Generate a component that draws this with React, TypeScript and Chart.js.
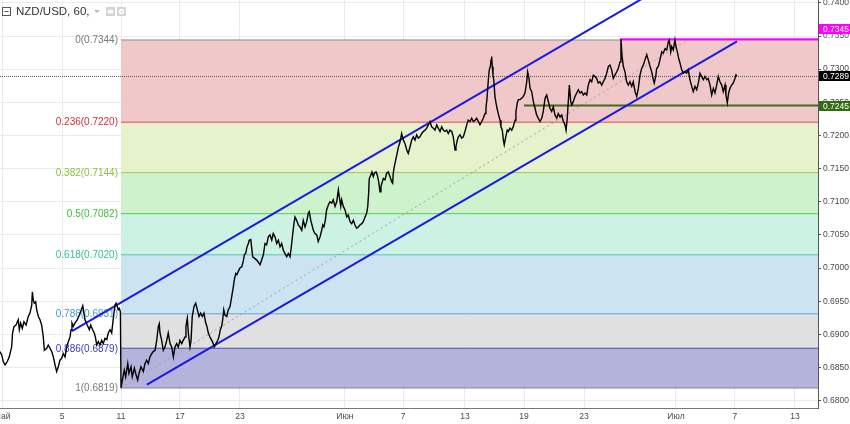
import { useEffect, useRef } from 'react';
import { Chart, registerables } from 'chart.js';

Chart.register(...registerables);

// ---------- data ----------
const TITLE = 'NZD/USD, 60,';

// x is measured in trading days from the 11 May session open
const xTickDays = [-7.93, -3.93, 0, 3.93, 7.93, 14.93, 18.8, 22.93, 26.87, 30.87, 37, 40.93, 44.93];
const xTickLabels = ['Май', '5', '11', '17', '23', 'Июн', '7', '13', '19', '23', 'Июл', '7', '13'];
const yTickValues = [0.68, 0.685, 0.69, 0.695, 0.7, 0.705, 0.71, 0.715, 0.72, 0.725, 0.73, 0.735, 0.74];

const X_MIN = -8.067;
const X_MAX = 46.467;
const Y_MIN = 0.67889;
const Y_MAX = 0.74043;

// hourly close path, [day, price]
const barsMay1: [number, number][] = [
  [-8.07, 0.6874], [-7.95, 0.6869], [-7.85, 0.6859], [-7.73, 0.6854], [-7.58, 0.6859], [-7.45, 0.6866],
  [-7.29, 0.6881], [-7.23, 0.6902], [-7.13, 0.6912], [-7.0, 0.6914], [-6.85, 0.6922], [-6.78, 0.6907],
  [-6.69, 0.6917], [-6.58, 0.6909], [-6.47, 0.6919], [-6.33, 0.6914], [-6.18, 0.6927], [-6.07, 0.6932],
  [-5.95, 0.6944], [-5.91, 0.6964], [-5.85, 0.6952], [-5.78, 0.6947], [-5.69, 0.6949], [-5.62, 0.6937],
  [-5.51, 0.6927], [-5.4, 0.6922], [-5.29, 0.6914], [-5.18, 0.6896], [-5.11, 0.6876], [-4.95, 0.6879],
  [-4.85, 0.6884], [-4.73, 0.6879], [-4.62, 0.6874], [-4.51, 0.6866], [-4.4, 0.6854], [-4.29, 0.6844],
  [-4.18, 0.6851], [-4.07, 0.6861], [-3.95, 0.6864], [-3.85, 0.6871], [-3.73, 0.6866], [-3.62, 0.6881],
  [-3.51, 0.6889], [-3.4, 0.6896], [-3.33, 0.6907], [-3.27, 0.6917], [-3.18, 0.6912], [-3.07, 0.6917],
  [-2.91, 0.6922], [-2.73, 0.6932], [-2.55, 0.6943], [-2.47, 0.6932], [-2.4, 0.6922], [-2.25, 0.6914],
  [-2.11, 0.6907], [-2.02, 0.6914], [-1.89, 0.6907], [-1.78, 0.6902], [-1.69, 0.6894], [-1.62, 0.6884],
  [-1.51, 0.6889], [-1.4, 0.6884], [-1.29, 0.6891], [-1.18, 0.6886], [-1.07, 0.6894], [-0.95, 0.6892],
  [-0.85, 0.6902], [-0.73, 0.6907], [-0.62, 0.6902], [-0.55, 0.6917], [-0.47, 0.6932], [-0.4, 0.6944],
  [-0.33, 0.6947], [-0.25, 0.6942], [-0.18, 0.6937], [-0.11, 0.6939], [-0.04, 0.6934], [0, 0.6819],
];

const barsMay2: [number, number][] = [
  [0.09, 0.6831], [0.22, 0.6846], [0.31, 0.6836], [0.45, 0.6856], [0.53, 0.6841], [0.67, 0.6851],
  [0.75, 0.6836], [0.89, 0.6849], [0.98, 0.6841], [1.11, 0.6831], [1.2, 0.6841], [1.33, 0.6851],
  [1.49, 0.6844], [1.6, 0.6856], [1.71, 0.6861], [1.82, 0.6856], [1.93, 0.6866], [2.05, 0.6871],
  [2.15, 0.6874], [2.27, 0.6876], [2.38, 0.6891], [2.49, 0.6912], [2.55, 0.6916], [2.6, 0.6902],
  [2.71, 0.6891], [2.82, 0.6876], [2.93, 0.6881], [3.05, 0.6891], [3.15, 0.6902], [3.27, 0.6886],
  [3.38, 0.6881], [3.49, 0.6866], [3.6, 0.6881], [3.71, 0.6886], [3.82, 0.6881], [3.93, 0.6891],
  [4.05, 0.6886], [4.15, 0.6891], [4.27, 0.6896], [4.33, 0.6912], [4.42, 0.6924], [4.49, 0.6902],
  [4.6, 0.6881], [4.67, 0.6891], [4.75, 0.6927], [4.87, 0.6942], [4.98, 0.6947], [5.09, 0.6937],
  [5.2, 0.6927], [5.31, 0.6932], [5.42, 0.6927], [5.53, 0.6932], [5.65, 0.6917], [5.73, 0.6912],
  [5.82, 0.6902], [5.93, 0.6896], [6.05, 0.6891], [6.15, 0.6886], [6.22, 0.6881], [6.33, 0.6886],
  [6.45, 0.6891], [6.53, 0.6896], [6.62, 0.6907], [6.71, 0.6912], [6.78, 0.6922], [6.85, 0.6937],
  [6.93, 0.6929], [7.05, 0.6927], [7.15, 0.6937], [7.27, 0.6942], [7.38, 0.6957], [7.49, 0.6972],
  [7.55, 0.6982], [7.65, 0.6992], [7.73, 0.699], [7.82, 0.6995], [7.93, 0.7], [8.05, 0.7002],
  [8.15, 0.701], [8.22, 0.702], [8.31, 0.7022], [8.4, 0.7032], [8.49, 0.7037], [8.55, 0.7042],
  [8.65, 0.7043],
];

const barsMay3: [number, number][] = [
  [8.78, 0.7017], [9.05, 0.7012], [9.27, 0.7005], [9.49, 0.702], [9.6, 0.7037], [9.71, 0.7035],
  [9.82, 0.7047], [9.93, 0.705], [10.05, 0.7042], [10.15, 0.7052], [10.27, 0.7047], [10.38, 0.7037],
  [10.49, 0.7042], [10.6, 0.7032], [10.71, 0.7037], [10.82, 0.7027], [10.93, 0.7022], [11.05, 0.7017],
  [11.15, 0.7022], [11.27, 0.7017], [11.38, 0.7037], [11.45, 0.7052], [11.53, 0.7067], [11.6, 0.7077],
  [11.71, 0.7072], [11.82, 0.7065], [11.93, 0.7062], [12.05, 0.7057], [12.15, 0.7072], [12.27, 0.7062],
  [12.38, 0.707], [12.49, 0.7083], [12.55, 0.7085], [12.65, 0.7072], [12.71, 0.7067], [12.82, 0.7057],
  [12.93, 0.7052], [13.05, 0.705], [13.15, 0.704], [13.27, 0.7047], [13.38, 0.7057], [13.45, 0.7065],
  [13.53, 0.7062], [13.62, 0.7072], [13.71, 0.7088], [13.82, 0.7095], [13.93, 0.71], [14.05, 0.7098],
  [14.15, 0.7103], [14.27, 0.7093], [14.38, 0.71], [14.49, 0.7118], [14.55, 0.7108], [14.65, 0.7093],
  [14.71, 0.7103], [14.82, 0.7093], [14.93, 0.7088],
];

const barsJun1: [number, number][] = [
  [15.05, 0.7077], [15.15, 0.708], [15.27, 0.707], [15.38, 0.7067], [15.49, 0.7072], [15.6, 0.7065],
  [15.71, 0.706], [15.82, 0.7062], [15.93, 0.7065], [16.05, 0.7067], [16.15, 0.707], [16.27, 0.7077],
  [16.38, 0.7083], [16.45, 0.7093], [16.51, 0.7113], [16.55, 0.7135], [16.65, 0.714], [16.73, 0.7145],
  [16.82, 0.7138], [16.89, 0.7143], [17.0, 0.7145], [17.09, 0.714], [17.18, 0.713], [17.27, 0.7115],
  [17.33, 0.7123], [17.42, 0.713], [17.49, 0.7135], [17.6, 0.7133], [17.71, 0.7143], [17.82, 0.7145],
  [17.93, 0.7138], [18.05, 0.713], [18.11, 0.7128], [18.15, 0.7143], [18.22, 0.7153], [18.38, 0.717],
  [18.49, 0.7182], [18.6, 0.719], [18.71, 0.7203], [18.82, 0.7193], [18.93, 0.7188], [19.05, 0.7178],
  [19.15, 0.7173], [19.27, 0.7183], [19.38, 0.7193], [19.49, 0.7198], [19.6, 0.7193], [19.71, 0.7201],
  [19.82, 0.7196], [19.93, 0.7198], [20.05, 0.7203], [20.15, 0.7206], [20.27, 0.7208], [20.38, 0.7211],
  [20.49, 0.7216], [20.6, 0.7221], [20.71, 0.7213], [20.82, 0.7211], [20.93, 0.7208], [21.05, 0.7216],
  [21.15, 0.7211], [21.27, 0.7206], [21.38, 0.7213], [21.49, 0.7208], [21.6, 0.7206], [21.71, 0.7208],
  [21.82, 0.7203], [21.93, 0.7208], [22.05, 0.7206], [22.15, 0.7198], [22.27, 0.7178], [22.33, 0.7183],
  [22.42, 0.7193], [22.49, 0.7198], [22.6, 0.7201], [22.71, 0.7196], [22.82, 0.7198], [22.93, 0.7206],
];

const barsJun2: [number, number][] = [
  [23.05, 0.7216], [23.15, 0.7223], [23.27, 0.7221], [23.38, 0.7226], [23.49, 0.7221], [23.6, 0.7223],
  [23.71, 0.7226], [23.82, 0.7221], [23.93, 0.7216], [24.05, 0.7221], [24.15, 0.7226], [24.27, 0.7233],
  [24.33, 0.7241], [24.4, 0.7256], [24.49, 0.7284], [24.55, 0.7299], [24.62, 0.7304], [24.67, 0.7314],
  [24.71, 0.7319], [24.75, 0.7304], [24.8, 0.7291], [24.85, 0.7284], [24.93, 0.7259], [25.0, 0.7249],
  [25.07, 0.7241], [25.15, 0.7233], [25.27, 0.7223], [25.33, 0.7213], [25.42, 0.7208], [25.49, 0.7193],
  [25.55, 0.7186], [25.65, 0.7198], [25.75, 0.7208], [25.82, 0.7206], [25.93, 0.7211], [26.05, 0.7208],
  [26.15, 0.7213], [26.27, 0.7223], [26.33, 0.7236], [26.42, 0.7249], [26.49, 0.7254], [26.6, 0.7254],
  [26.71, 0.7256], [26.82, 0.7259], [26.93, 0.7264], [27.05, 0.7281], [27.11, 0.7296], [27.2, 0.7286],
  [27.27, 0.7271], [27.38, 0.7266], [27.49, 0.7251], [27.6, 0.7241], [27.71, 0.7231], [27.82, 0.7226],
  [27.93, 0.7221], [28.05, 0.7226], [28.15, 0.7236], [28.27, 0.7256], [28.38, 0.7261], [28.49, 0.7251],
  [28.6, 0.7241], [28.71, 0.7236], [28.82, 0.7243], [28.93, 0.7231], [29.05, 0.7226], [29.15, 0.7233],
  [29.27, 0.7228], [29.38, 0.7231], [29.49, 0.7221], [29.6, 0.7216], [29.67, 0.7208], [29.75, 0.7226],
  [29.82, 0.7251], [29.89, 0.7276], [29.98, 0.7251], [30.05, 0.7246], [30.15, 0.7251], [30.27, 0.7259],
  [30.38, 0.7264], [30.49, 0.7269], [30.6, 0.7264], [30.71, 0.7266], [30.82, 0.7261], [30.93, 0.7264],
];

const barsJun3: [number, number][] = [
  [31.05, 0.7261], [31.15, 0.7276], [31.27, 0.7284], [31.38, 0.7281], [31.49, 0.7291], [31.6, 0.7289],
  [31.71, 0.7286], [31.82, 0.7279], [31.93, 0.7281], [32.05, 0.7276], [32.15, 0.7281], [32.27, 0.7286],
  [32.38, 0.7294], [32.49, 0.7304], [32.6, 0.7306], [32.71, 0.7299], [32.82, 0.7286], [32.93, 0.7291],
  [33.05, 0.7296], [33.15, 0.7301], [33.27, 0.7311], [33.33, 0.7345], [33.4, 0.7321], [33.49, 0.7304],
  [33.6, 0.7296], [33.71, 0.7281], [33.82, 0.7276], [33.93, 0.7281], [34.05, 0.7274], [34.15, 0.7281],
  [34.27, 0.7266], [34.38, 0.7259], [34.49, 0.7271], [34.6, 0.7291], [34.71, 0.7301], [34.82, 0.7306],
  [34.93, 0.7314], [35.05, 0.7322], [35.15, 0.7314], [35.27, 0.7304], [35.38, 0.7296], [35.49, 0.7284],
  [35.55, 0.7279], [35.65, 0.7289], [35.71, 0.7301], [35.82, 0.7304], [35.93, 0.7314], [36.05, 0.7326],
  [36.15, 0.7324], [36.27, 0.7331], [36.38, 0.7329], [36.49, 0.7341], [36.55, 0.7344], [36.65, 0.7326],
  [36.71, 0.7334], [36.82, 0.7329], [36.93, 0.7344],
];

const barsJul: [number, number][] = [
  [37.0, 0.7334], [37.09, 0.7326], [37.18, 0.7316], [37.27, 0.7309], [37.38, 0.7299], [37.49, 0.7294],
  [37.6, 0.7296], [37.71, 0.7294], [37.82, 0.7299], [37.93, 0.7284], [38.05, 0.7274], [38.15, 0.7266],
  [38.27, 0.7274], [38.38, 0.7269], [38.49, 0.7279], [38.6, 0.7294], [38.71, 0.7289], [38.82, 0.7284],
  [38.93, 0.7289], [39.05, 0.7284], [39.15, 0.7286], [39.27, 0.7276], [39.38, 0.7261], [39.49, 0.7271],
  [39.6, 0.7264], [39.71, 0.7276], [39.82, 0.7289], [39.93, 0.7281], [40.05, 0.7276], [40.15, 0.7266],
  [40.27, 0.7276], [40.33, 0.7261], [40.42, 0.7249], [40.51, 0.7264], [40.6, 0.7271], [40.71, 0.7276],
  [40.82, 0.7279], [40.93, 0.7286], [41.0, 0.7291], [41.05, 0.7289],
];

// Fibonacci retracement drawn from the 11 May low to the July high
const fibRatios = ['0', '0.236', '0.382', '0.5', '0.618', '0.786', '0.886', '1'];
const fibPrices = [0.7344, 0.722, 0.7144, 0.7082, 0.702, 0.6931, 0.6879, 0.6819];
const fibStartDay = 0;

// drawings
const upperChannel: [number, number][] = [[-3.27, 0.6905], [37, 0.7436]];
const lowerChannel: [number, number][] = [[1.73, 0.6824], [41.07, 0.7342]];
const fibTrendLine: [number, number][] = [[0, 0.6819], [37.8, 0.7344]];
const resistanceStartDay = 33.27;
const resistancePrice = 0.7345;
const supportStartDay = 26.87;
const supportPrice = 0.7245;
const lastPrice = 0.7289;

// ---------- styles ----------
const FONT = '"Liberation Sans", Arial, sans-serif';
const fibLineColors = ['#8c8c8c', '#e0474c', '#9acb58', '#5cc85c', '#4fc7b2', '#5aa8dc', '#4848a8', '#8c8c8c'];
const fibFillColors = ['rgba(0,0,0,0)', '#f1c8ca', '#e5f2cb', '#cdf2cc', '#ccf2e3', '#cce3f1', '#e0e0e0', '#b3b3dc'];
const fibTextColors = ['#7a7a7a', '#d02f36', '#8cc03a', '#3cbf3c', '#33c090', '#3a9ad0', '#3838c0', '#7a7a7a'];

const toPts = (arr: [number, number][]) => arr.map(([x, y]) => ({ x, y }));

export default function App() {
  const ref = useRef<HTMLCanvasElement | null>(null);

  useEffect(() => {
    document.body.style.margin = '0';
    const canvas = ref.current;
    if (!canvas) return;

    const price = [...barsMay1, ...barsMay2, ...barsMay3, ...barsJun1, ...barsJun2, ...barsJun3, ...barsJul];

    const fibDatasets = fibPrices.map((p, i) => ({
      type: 'line' as const,
      data: [{ x: fibStartDay, y: p }, { x: X_MAX, y: p }],
      borderColor: fibLineColors[i],
      borderWidth: 1,
      backgroundColor: fibFillColors[i],
      fill: i === 0 ? false : '-1',
      pointRadius: 0,
      order: 50,
    }));

    const fibLabelPlugin = {
      id: 'fibLabels',
      beforeDatasetsDraw(chart: any) {
        const { ctx, scales } = chart;
        const xs = scales.x.getPixelForValue(fibStartDay) - 3;
        ctx.save();
        ctx.font = `10px ${FONT}`;
        ctx.textAlign = 'right';
        ctx.textBaseline = 'middle';
        fibPrices.forEach((p, i) => {
          ctx.fillStyle = fibTextColors[i];
          ctx.fillText(`${fibRatios[i]}(${p.toFixed(4)})`, xs, scales.y.getPixelForValue(p) + 0.5);
        });
        ctx.restore();
      },
    };

    const overlayPlugin = {
      id: 'overlay',
      afterDraw(chart: any) {
        const { ctx, scales, chartArea, width } = chart;
        ctx.save();
        // price tags on the axis
        const tags = [
          { v: resistancePrice, bg: '#ff00ff', dy: -10 },
          { v: lastPrice, bg: '#000000', dy: 0 },
          { v: supportPrice, bg: '#346a12', dy: 0 },
        ];
        ctx.font = `8.5px ${FONT}`;
        ctx.textBaseline = 'middle';
        ctx.textAlign = 'left';
        tags.forEach((t) => {
          const y = Math.round(scales.y.getPixelForValue(t.v)) + t.dy;
          const x0 = chartArea.right + 1;
          ctx.fillStyle = t.bg;
          ctx.fillRect(x0, y - 5, width - x0, 10);
          ctx.fillStyle = '#ffffff';
          ctx.fillText(t.v.toFixed(4), x0 + 4, y + 0.5);
        });

        // header
        ctx.strokeStyle = '#555';
        ctx.lineWidth = 1;
        ctx.strokeRect(2.5, 7.5, 8, 8);
        ctx.beginPath();
        ctx.moveTo(4.5, 11.5);
        ctx.lineTo(8.5, 11.5);
        ctx.stroke();
        ctx.fillStyle = '#333';
        ctx.font = `11.5px ${FONT}`;
        ctx.textBaseline = 'middle';
        ctx.fillText(TITLE, 16, 12);
        ctx.fillStyle = '#bbbbbb';
        ctx.beginPath();
        ctx.moveTo(94, 10);
        ctx.lineTo(100, 10);
        ctx.lineTo(97, 13);
        ctx.closePath();
        ctx.fill();
        ctx.fillStyle = '#d4d4d4';
        ctx.fillRect(106, 7, 9, 9);
        ctx.fillRect(117, 7, 9, 9);
        ctx.fillStyle = '#ffffff';
        ctx.beginPath();
        ctx.ellipse(110.5, 11.5, 3, 2, 0, 0, Math.PI * 2);
        ctx.fill();
        ctx.beginPath();
        ctx.arc(121.5, 11.5, 2.8, 0, Math.PI * 2);
        ctx.fill();
        ctx.fillStyle = '#d4d4d4';
        ctx.beginPath();
        ctx.arc(121.5, 11.5, 1.1, 0, Math.PI * 2);
        ctx.fill();
        ctx.restore();
      },
    };

    const chart = new Chart(canvas, {
      type: 'line',
      data: {
        datasets: [
          ...fibDatasets,
          {
            type: 'line',
            data: toPts(price),
            borderColor: '#000000',
            borderWidth: 1.4,
            pointRadius: 0,
            fill: false,
            order: 1,
          },
          {
            type: 'line',
            data: toPts(upperChannel),
            borderColor: '#1a1ae0',
            borderWidth: 2,
            pointRadius: 0,
            fill: false,
            order: 2,
          },
          {
            type: 'line',
            data: toPts(lowerChannel),
            borderColor: '#1a1ae0',
            borderWidth: 2,
            pointRadius: 0,
            fill: false,
            order: 2,
          },
          {
            type: 'line',
            data: [{ x: resistanceStartDay, y: resistancePrice }, { x: X_MAX, y: resistancePrice }],
            borderColor: '#ff00ff',
            borderWidth: 2,
            pointRadius: 0,
            fill: false,
            order: 3,
          },
          {
            type: 'line',
            data: [{ x: supportStartDay, y: supportPrice }, { x: X_MAX, y: supportPrice }],
            borderColor: '#3d6b18',
            borderWidth: 2,
            pointRadius: 0,
            fill: false,
            order: 3,
          },
          {
            type: 'line',
            data: toPts(fibTrendLine),
            borderColor: '#a0a0a0',
            borderWidth: 1,
            borderDash: [2, 3],
            pointRadius: 0,
            fill: false,
            order: 6,
          },
          {
            type: 'line',
            data: [{ x: X_MIN, y: lastPrice }, { x: X_MAX, y: lastPrice }],
            borderColor: '#555555',
            borderWidth: 1,
            borderDash: [1, 1],
            pointRadius: 0,
            fill: false,
            order: 5,
          },
        ] as any,
      },
      options: {
        responsive: false,
        animation: false,
        events: [],
        layout: { padding: 0 },
        plugins: {
          legend: { display: false },
          tooltip: { enabled: false },
          title: { display: false },
        },
        scales: {
          x: {
            type: 'linear',
            position: 'bottom',
            min: X_MIN,
            max: X_MAX,
            afterBuildTicks: (s: any) => {
              s.ticks = xTickDays.map((v) => ({ value: v }));
            },
            afterFit: (s: any) => {
              s.height = 16;
              s.paddingLeft = 0;
              s.paddingRight = 0;
            },
            ticks: {
              autoSkip: false,
              maxRotation: 0,
              minRotation: 0,
              padding: 4,
              color: '#4a4a4a',
              font: { size: 8.5, family: FONT },
              callback: (_v: any, i: number) => xTickLabels[i],
            },
            grid: { color: '#ebebeb', drawTicks: false },
            border: { display: true, color: '#777777' },
          },
          y: {
            type: 'linear',
            position: 'right',
            min: Y_MIN,
            max: Y_MAX,
            afterBuildTicks: (s: any) => {
              s.ticks = yTickValues.map((v) => ({ value: v }));
            },
            afterFit: (s: any) => {
              s.width = 32;
              s.paddingTop = 0;
              s.paddingBottom = 0;
            },
            ticks: {
              padding: 2,
              color: '#4a4a4a',
              font: { size: 8.5, family: FONT },
              callback: (v: any) => Number(v).toFixed(4),
            },
            grid: { color: '#ebebeb', tickLength: 3, tickColor: '#555555' },
            border: { display: true, color: '#555555' },
          },
        },
      } as any,
      plugins: [fibLabelPlugin, overlayPlugin],
    });

    return () => chart.destroy();
  }, []);

  return (
    <div style={{ width: 850, height: 424, position: 'relative', background: '#fff' }}>
      <canvas ref={ref} width={850} height={424} style={{ display: 'block' }} />
    </div>
  );
}
